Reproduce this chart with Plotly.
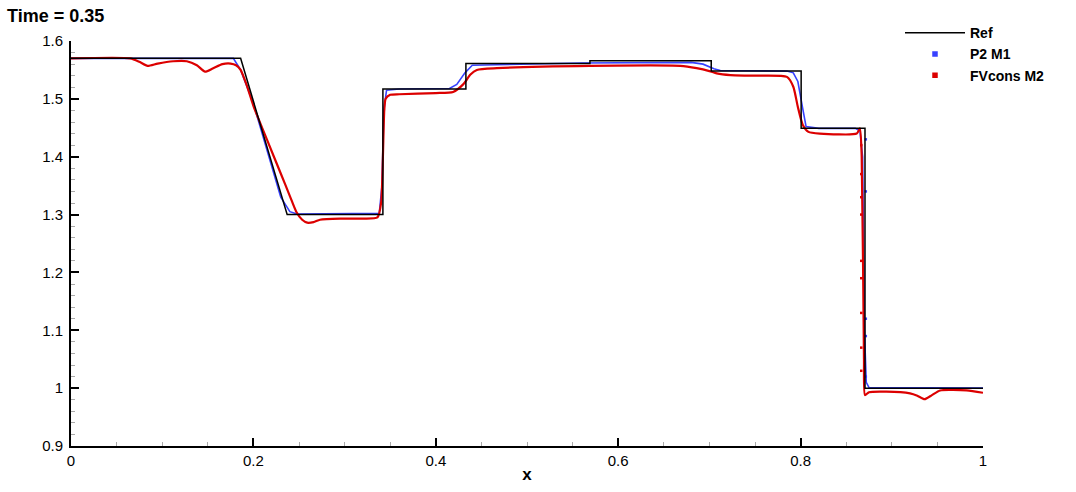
import plotly.graph_objects as go

# Reference solution
ref_x = [0.0, 0.186, 0.237, 0.342, 0.342, 0.433, 0.433, 0.569, 0.569, 0.702, 0.702,
         0.8006, 0.8006, 0.8706, 0.8706, 1.0]
ref_y = [1.57, 1.57, 1.30, 1.30, 1.517, 1.517, 1.561, 1.561, 1.566, 1.566, 1.548,
         1.548, 1.449, 1.449, 1.0, 1.0]

# P2 M1
p2_x = [0.0, 0.178, 0.186, 0.200, 0.230, 0.240, 0.248, 0.300, 0.338, 0.341, 0.343,
        0.346, 0.360, 0.415, 0.423, 0.432, 0.440, 0.560, 0.680, 0.693, 0.705, 0.712,
        0.785, 0.792, 0.797, 0.802, 0.806, 0.820, 0.860, 0.865, 0.868, 0.870, 0.872,
        0.875, 1.0]
p2_y = [1.57, 1.57, 1.550, 1.492, 1.330, 1.305, 1.301, 1.301, 1.302, 1.350, 1.480,
        1.515, 1.517, 1.518, 1.525, 1.545, 1.558, 1.562, 1.563, 1.560, 1.552, 1.549,
        1.548, 1.545, 1.530, 1.486, 1.452, 1.449, 1.449, 1.445, 1.400, 1.100, 1.010,
        1.001, 1.0]

# FVcons M2
fv_x = [0.0, 0.065, 0.075, 0.084, 0.095, 0.112, 0.127, 0.138, 0.147, 0.156, 0.166,
        0.175, 0.181, 0.186, 0.193, 0.200, 0.215, 0.230, 0.240, 0.247, 0.2535, 0.259,
        0.266, 0.273, 0.295, 0.320, 0.336, 0.340, 0.342, 0.3435, 0.345, 0.350, 0.360,
        0.400, 0.419, 0.430, 0.438, 0.445, 0.467, 0.569, 0.668, 0.686, 0.700, 0.708,
        0.723, 0.745, 0.785, 0.792, 0.797, 0.8024, 0.8086, 0.821, 0.8616, 0.865,
        0.867, 0.8695, 0.8706, 0.875, 0.894, 0.920, 0.928, 0.936, 0.944, 0.953,
        0.982, 1.0]
fv_y = [1.57, 1.57, 1.564, 1.557, 1.561, 1.565, 1.565, 1.558, 1.547, 1.553, 1.560,
        1.561, 1.558, 1.550, 1.522, 1.488, 1.429, 1.371, 1.332, 1.305, 1.291, 1.286,
        1.287, 1.291, 1.293, 1.293, 1.295, 1.320, 1.400, 1.480, 1.500, 1.507, 1.508,
        1.510, 1.512, 1.525, 1.542, 1.550, 1.553, 1.557, 1.557, 1.553, 1.548, 1.544,
        1.541, 1.540, 1.538, 1.521, 1.486, 1.455, 1.443, 1.440, 1.440, 1.449,
        1.400, 1.050, 0.988, 0.993, 0.994, 0.991, 0.987, 0.981, 0.988, 0.996,
        0.996, 0.992]

# scattered dots near the right shock
fv_dot_x = [0.8665, 0.8665, 0.8665, 0.8665, 0.8665, 0.8665, 0.8665, 0.8665, 0.8665]
fv_dot_y = [1.42, 1.37, 1.33, 1.30, 1.22, 1.19, 1.13, 1.07, 1.03]
p2_dot_x = [0.8715, 0.8715, 0.8715, 0.8715, 0.8715]
p2_dot_y = [1.43, 1.34, 1.12, 1.09, 1.02]

BLUE = "rgb(55,65,255)"
RED = "rgb(220,0,0)"
FONT = "Arial, Liberation Sans, sans-serif"

fig = go.Figure()
fig.add_trace(go.Scatter(x=p2_x, y=p2_y, mode="lines", line=dict(color=BLUE, width=1.6),
                         showlegend=False))
fig.add_trace(go.Scatter(x=p2_dot_x, y=p2_dot_y, mode="markers",
                         marker=dict(color=BLUE, size=2.5, symbol="square"), showlegend=False))
fig.add_trace(go.Scatter(x=fv_x, y=fv_y, mode="lines",
                         line=dict(color=RED, width=2.2, shape="spline", smoothing=0.6),
                         showlegend=False))
fig.add_trace(go.Scatter(x=fv_dot_x, y=fv_dot_y, mode="markers",
                         marker=dict(color=RED, size=2.5, symbol="square"), showlegend=False))
fig.add_trace(go.Scatter(x=ref_x, y=ref_y, mode="lines", line=dict(color="black", width=1.5),
                         name="Ref"))
fig.add_trace(go.Scatter(x=[None], y=[None], mode="markers",
                         marker=dict(color=BLUE, size=5.5, symbol="square"), name="P2 M1"))
fig.add_trace(go.Scatter(x=[None], y=[None], mode="markers",
                         marker=dict(color=RED, size=5.5, symbol="square"), name="FVcons M2"))

axis_common = dict(
    showgrid=False, zeroline=False, showline=True, linecolor="black", linewidth=2,
    ticks="inside", ticklen=8, tickwidth=2, tickcolor="black",
    tickfont=dict(family=FONT, size=15, color="black"),
)
fig.update_xaxes(range=[0, 1], tickvals=[0, 0.2, 0.4, 0.6, 0.8, 1],
                 ticktext=["0", "0.2", "0.4", "0.6", "0.8", "1"],
                 minor=dict(dtick=0.05, ticks="inside", ticklen=4, tickwidth=1,
                            tickcolor="#aaaaaa", showgrid=False),
                 title=dict(text="<b>x</b>", font=dict(family=FONT, size=17, color="black"),
                            standoff=0),
                 **axis_common)
fig.update_yaxes(range=[0.9, 1.6], tickvals=[0.9, 1.0, 1.1, 1.2, 1.3, 1.4, 1.5, 1.6],
                 ticktext=["0.9", "1", "1.1", "1.2", "1.3", "1.4", "1.5", "1.6"],
                 minor=dict(dtick=0.02, ticks="inside", ticklen=4, tickwidth=1,
                            tickcolor="#aaaaaa", showgrid=False),
                 ticklabelstandoff=3,
                 **axis_common)

fig.update_layout(
    width=1076, height=492,
    plot_bgcolor="white", paper_bgcolor="white",
    margin=dict(l=71, r=93, t=41, b=46, autoexpand=False),
    title=dict(text="<b>Time = 0.35</b>", x=0.0065, xref="container", xanchor="left",
               y=0.98, yref="container", yanchor="top",
               font=dict(family=FONT, size=18, color="black")),
    legend=dict(x=900 / 1076, xref="container", xanchor="left", y=0.965, yref="container",
                yanchor="top", bgcolor="rgba(0,0,0,0)", tracegroupgap=0,
                itemwidth=60,
                font=dict(family=FONT, size=14, color="black", weight="bold")),
    font=dict(family=FONT),
)

fig.write_html("out.html", config={"displayModeBar": False},
               post_script="document.body.style.margin='0px';")
